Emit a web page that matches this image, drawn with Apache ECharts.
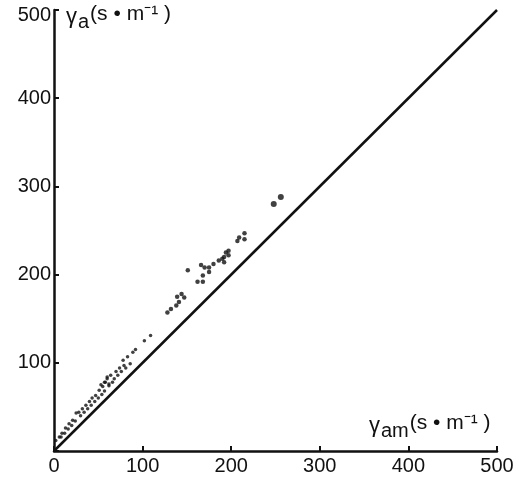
<!DOCTYPE html>
<html><head><meta charset="utf-8">
<script src="https://cdn.jsdelivr.net/npm/echarts@6/dist/echarts.min.js"></script>
<style>html,body{margin:0;padding:0;background:#fff}#c{width:519px;height:480px}</style>
</head><body><div id="c"></div>
<script>
// measured aerodynamic resistance r_am (x) vs computed r_a (y), s·m^-1
const ramValues = [2,6,9,13,17,21,25,28,32,36,40,43,47,51,55,58,60,
  8,12,16,20,24,30,34,38,42,46,50,54,57,62,66,
  53,57,60,64,70,74,79,78,83,89,92,102,109,
  62,68,72,76,81,86,
  128,132,138,141,147,139,144,151,162,168,168,175,166,170,175,180,192,186,190,192,197,194,197,207,215,209,215,248,256];
const raValues = [12,16,20,26,31,35,43,44,48,52,56,60,63,69,73,78,84,
  16,20,25,29,34,40,44,48,52,56,60,64,68,74,78,
  75,78,82,86,90,94,97,103,107,112,115,125,131,
  76,82,86,90,94,99,
  157,161,165,169,174,175,178,205,192,192,199,203,211,208,208,212,214,216,218,220,222,225,227,238,240,242,247,280,288];
const refLine = [[0,0],[500,500]];
const xTicks = [0,100,200,300,400,500];
const yTicks = [100,200,300,400,500];

const pts = ramValues.map((x,i)=>[x, raValues[i]]);
const chart = echarts.init(document.getElementById('c'));
const font = 'Liberation Sans, Arial, sans-serif';
const rich = {
  g:{fontSize:22,fontFamily:font,fill:'#111'},
  s:{fontSize:20,fontFamily:font,fill:'#111',padding:[12,1,0,1]},
  u:{fontSize:21,fontFamily:font,fill:'#111',padding:[0,0,4,0]}
};
chart.setOption({
  animation:false,
  backgroundColor:'#fff',
  grid:{left:54,right:22,top:10,bottom:29},
  xAxis:{type:'value',min:0,max:500,interval:100,
    axisLine:{lineStyle:{color:'#111',width:2.5}},
    axisTick:{inside:true,length:5,lineStyle:{color:'#111',width:2}},
    splitLine:{show:false},
    axisLabel:{color:'#111',fontSize:20,fontFamily:font,margin:5,
      formatter:v=>xTicks.includes(v)?String(v):''}},
  yAxis:{type:'value',min:0,max:500,interval:100,
    axisLine:{show:true,lineStyle:{color:'#111',width:2.5}},
    axisTick:{show:true,inside:true,length:5,lineStyle:{color:'#111',width:2}},
    splitLine:{show:false},
    axisLabel:{color:'#111',fontSize:20,fontFamily:font,margin:3,
      rich:{t:{fontSize:20,fontFamily:font,color:'#111',padding:[10,0,0,0]}},
      formatter:v=>yTicks.includes(v)?(v===500?'{t|500}':String(v)):''}},
  graphic:[
    {type:'text',left:66,top:4,style:{text:'{g|γ}{s|a}{u|(s • m⁻¹ )}',rich:rich}},
    {type:'text',left:369,top:413,style:{text:'{g|γ}{s|am}{u|(s • m⁻¹ )}',rich:rich}}
  ],
  series:[
    {type:'line',data:refLine,showSymbol:false,lineStyle:{color:'#111',width:2.5},silent:true},
    {type:'scatter',data:pts,symbolSize:(v)=>v[0]>240?6:(v[0]>120?4.5:3.5),
      itemStyle:{color:'#111'}}
  ]
});
</script></body></html>
